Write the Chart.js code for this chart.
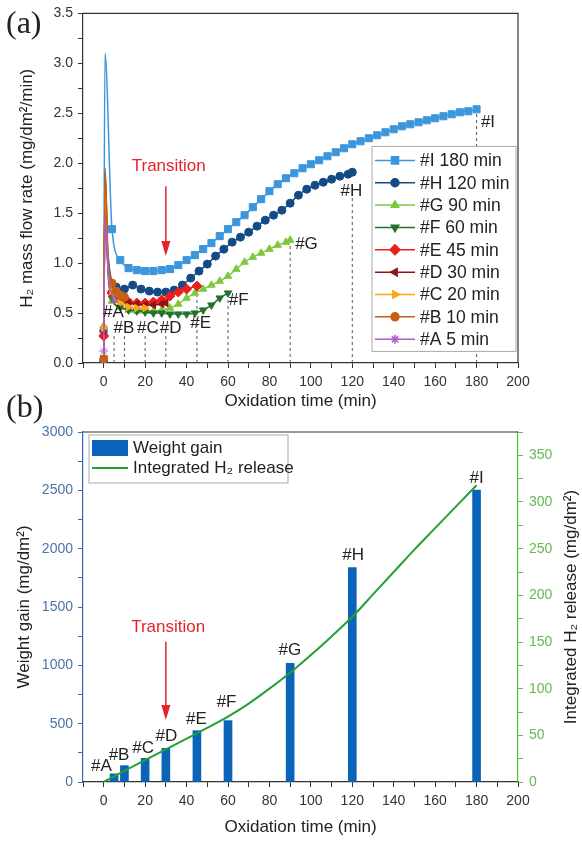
<!DOCTYPE html>
<html>
<head>
<meta charset="utf-8">
<script src="https://cdn.jsdelivr.net/npm/chart.js@4.4.1/dist/chart.umd.min.js"></script>
<style>
  html, body { margin: 0; padding: 0; background: #fff; }
  #wrap { position: relative; width: 582px; height: 841px; }
  #panelA { position: absolute; left: 0; top: 0; }
  #panelB { position: absolute; left: 0; top: 390px; }
</style>
</head>
<body>
<div id="wrap">
  <canvas id="panelA" width="582" height="415"></canvas>
  <canvas id="panelB" width="582" height="451"></canvas>
</div>
<script>
const FONT = "'Liberation Sans', Arial, Helvetica, sans-serif";

// ---------- panel (a): H2 mass flow rate vs oxidation time ----------
const seriesNames = ['#A 5 min', '#B 10 min', '#C 20 min', '#D 30 min', '#E 45 min',
                     '#F 60 min', '#G 90 min', '#H 120 min', '#I 180 min'];

const timeA = [0, 0.6, 2.5, 5];
const rateA = [0.12, 1.45, 0.85, 0.63];

const timeB = [0, 0.7, 2, 4, 6, 8, 10];
const rateB = [0.04, 1.95, 1.1, 0.8, 0.72, 0.68, 0.66];

const timeC = [0, 0.7, 2, 4, 8, 12, 16, 20];
const rateC = [0.35, 1.8, 1.0, 0.72, 0.6, 0.56, 0.55, 0.55];

const timeD = [0, 0.7, 2, 4, 8, 12, 16, 20, 24, 28, 30];
const rateD = [0.32, 1.7, 1.0, 0.72, 0.62, 0.6, 0.59, 0.58, 0.58, 0.59, 0.6];

const timeE = [0, 0.7, 2, 4, 8, 12, 16, 20, 24, 28, 32, 36, 40, 45];
const rateE = [0.27, 1.75, 1.0, 0.7, 0.63, 0.61, 0.6, 0.6, 0.61, 0.63, 0.67, 0.71, 0.74, 0.77];

const timeF = [0, 0.7, 2, 4, 8, 12, 16, 20, 24, 28, 32, 36, 40, 44, 48, 52, 56, 60];
const rateF = [0.05, 1.8, 0.95, 0.65, 0.56, 0.53, 0.52, 0.51, 0.5, 0.5, 0.49, 0.49, 0.49, 0.5, 0.53, 0.58, 0.65, 0.7];

const timeG = [0, 0.7, 2, 4, 8, 12, 16, 20, 24, 28, 32, 36, 40, 44, 48, 52, 56, 60, 64, 68, 72, 76, 80, 84, 88, 90];
const rateG = [0.37, 1.85, 0.95, 0.62, 0.56, 0.53, 0.52, 0.52, 0.52, 0.53, 0.55, 0.59, 0.65, 0.7, 0.74, 0.78, 0.82, 0.87,
               0.94, 1.01, 1.06, 1.1, 1.14, 1.18, 1.21, 1.23];

const timeH = [0, 0.7, 2, 6, 10, 14, 18, 22, 26, 30, 34, 38, 42, 46, 50, 54, 58, 62, 66, 70, 74, 78, 82, 86, 90,
               94, 98, 102, 106, 110, 114, 118, 120];
const rateH = [0.02, 1.9, 1.1, 0.76, 0.74, 0.78, 0.74, 0.72, 0.71, 0.71, 0.73, 0.78, 0.85, 0.92, 0.99, 1.07, 1.14,
               1.21, 1.26, 1.31, 1.37, 1.43, 1.48, 1.53, 1.6, 1.68, 1.74, 1.78, 1.81, 1.84, 1.87, 1.89, 1.91];

const timeI = [0, 0.6, 4, 8, 12, 16, 20, 24, 28, 32, 36, 40, 44, 48, 52, 56, 60, 64, 68, 72, 76, 80, 84, 88, 92, 96,
               100, 104, 108, 112, 116, 120, 124, 128, 132, 136, 140, 144, 148, 152, 156, 160, 164, 168, 172, 176, 180];
const rateI = [0.33, 3.1, 1.34, 1.03, 0.95, 0.93, 0.92, 0.92, 0.93, 0.94, 0.98, 1.03, 1.08, 1.14, 1.2, 1.27, 1.34,
               1.41, 1.48, 1.56, 1.64, 1.72, 1.79, 1.85, 1.9, 1.95, 1.99, 2.03, 2.07, 2.11, 2.15, 2.19, 2.22, 2.25,
               2.28, 2.31, 2.34, 2.37, 2.39, 2.41, 2.43, 2.45, 2.47, 2.49, 2.51, 2.52, 2.54];

// end-of-test markers (#A .. #I)
const endLabels = ['#A', '#B', '#C', '#D', '#E', '#F', '#G', '#H', '#I'];
const endTimes = [5, 10, 20, 30, 45, 60, 90, 120, 180];
const dashTops = [0.28, 0.28, 0.28, 0.28, 0.77, 0.7, 1.23, 1.66, 2.54];
const labelTimesA = [4.7, 9.8, 21.3, 32.3, 46.8, 65.2, 97.9, 119.6, 185.5];
const labelRatesA = [0.51, 0.35, 0.35, 0.35, 0.4, 0.63, 1.19, 1.72, 2.41];

const transitionA = { textX: 31.4, textY: 1.97, arrowX: 30, arrowTop: 1.77, arrowTip: 1.07 };

// ---------- panel (b): weight gain and integrated H2 release ----------
const barLabels = ['#A', '#B', '#C', '#D', '#E', '#F', '#G', '#H', '#I'];
const barTimes = [5, 10, 20, 30, 45, 60, 90, 120, 180];
const weightGain = [70, 140, 203, 289, 440, 526, 1017, 1837, 2503];
const barLabelTimes = [-1.1, 7.4, 19, 30.3, 44.8, 59.3, 89.9, 120.4, 180];
const barLabelValues = [131, 231, 289, 388, 540, 683, 1131, 1946, 2603];

const releaseTimes = [0, 5, 10, 20, 30, 40, 50, 60, 70, 80, 90, 100, 110, 120, 130, 140, 150, 160, 170, 180];
const releaseValues = [0, 6, 12, 23.5, 35, 46.5, 58, 70, 84, 100, 117, 136, 156, 177, 201, 225, 249, 272, 295, 318];

const transitionB = { textX: 31.1, textY: 1324, arrowX: 30, arrowTop: 1203, arrowTip: 531 };

// ---------- styles ----------
const seriesColors = ['rgb(170,95,200)', 'rgb(200,95,20)', 'rgb(255,165,25)', 'rgb(145,20,20)', 'rgb(235,30,30)',
                      'rgb(35,115,45)', 'rgb(125,200,60)', 'rgb(20,75,135)', 'rgb(60,150,220)'];
const seriesMarkers = [['star', 0, 4.5], ['circle', 0, 4], ['triangle', 90, 4.3], ['triangle', -90, 4.3],
                       ['rectRot', 0, 5], ['triangle', 180, 4.3], ['triangle', 0, 4.3], ['circle', 0, 4],
                       ['rect', 0, 5]];
const seriesTimes = [timeA, timeB, timeC, timeD, timeE, timeF, timeG, timeH, timeI];
const seriesRates = [rateA, rateB, rateC, rateD, rateE, rateF, rateG, rateH, rateI];

function drawMarker(ctx, style, rot, r, x, y) {
  if (Chart.helpers && Chart.helpers.drawPoint) {
    Chart.helpers.drawPoint(ctx, { pointStyle: style, rotation: rot, radius: r, borderWidth: 1 }, x, y);
  } else {
    ctx.beginPath(); ctx.arc(x, y, r, 0, Math.PI * 2); ctx.fill();
  }
}

function drawTransition(ctx, xs, ys, tr) {
  const red = 'rgb(230,35,45)';
  ctx.save();
  ctx.fillStyle = red; ctx.strokeStyle = red; ctx.lineWidth = 1.5;
  ctx.font = '17px ' + FONT; ctx.textAlign = 'center'; ctx.textBaseline = 'middle';
  ctx.fillText('Transition', xs.getPixelForValue(tr.textX), ys.getPixelForValue(tr.textY));
  const px = xs.getPixelForValue(tr.arrowX);
  const top = ys.getPixelForValue(tr.arrowTop);
  const tip = ys.getPixelForValue(tr.arrowTip);
  ctx.beginPath(); ctx.moveTo(px, top); ctx.lineTo(px, tip - 12); ctx.stroke();
  ctx.beginPath(); ctx.moveTo(px - 4.5, tip - 15); ctx.lineTo(px + 4.5, tip - 15); ctx.lineTo(px, tip);
  ctx.closePath(); ctx.fill();
  ctx.restore();
}

function tickFont() { return { family: FONT, size: 14 }; }
function titleFont() { return { family: FONT, size: 17 }; }

// ---------- chart (a) ----------
const datasetsA = seriesNames.map((name, i) => ({
  type: 'line',
  label: name,
  data: seriesTimes[i].map((t, k) => ({ x: t, y: seriesRates[i][k] })),
  borderColor: seriesColors[i],
  backgroundColor: seriesColors[i],
  borderWidth: 1.5,
  pointStyle: seriesMarkers[i][0],
  pointRotation: seriesMarkers[i][1],
  pointRadius: (ctx) => {
    const t = seriesTimes[i][ctx.dataIndex];
    return (t > 0 && t < 3) ? 0 : seriesMarkers[i][2];
  },
  pointBorderWidth: 1,
  cubicInterpolationMode: 'monotone'
}));

endTimes.forEach((t, i) => {
  datasetsA.push({
    type: 'line',
    label: '',
    data: [{ x: t, y: 0 }, { x: t, y: dashTops[i] }],
    borderColor: '#555',
    borderWidth: 1,
    borderDash: [3, 3],
    pointRadius: 0
  });
});

const extrasA = {
  id: 'extrasA',
  afterDatasetsDraw(chart) {
    const { ctx, chartArea: a, scales: { x, y } } = chart;
    ctx.save();
    ctx.strokeStyle = '#333'; ctx.lineWidth = 1.2;
    ctx.beginPath(); ctx.moveTo(a.left, a.top); ctx.lineTo(a.right, a.top); ctx.lineTo(a.right, a.bottom); ctx.stroke();

    ctx.font = '17px ' + FONT; ctx.fillStyle = '#222';
    ctx.textAlign = 'center'; ctx.textBaseline = 'middle';
    endLabels.forEach((s, i) => {
      ctx.fillText(s, x.getPixelForValue(labelTimesA[i]), y.getPixelForValue(labelRatesA[i]));
    });

    drawTransition(ctx, x, y, transitionA);

    // legend box
    const lx = a.right - 146, ly = a.top + 133, lw = 144, lh = 205;
    ctx.fillStyle = '#fff'; ctx.fillRect(lx, ly, lw, lh);
    ctx.strokeStyle = '#aaa'; ctx.lineWidth = 1; ctx.strokeRect(lx, ly, lw, lh);
    ctx.textAlign = 'left';
    ctx.font = '17.5px ' + FONT;
    for (let k = 0; k < seriesNames.length; k++) {
      const i = seriesNames.length - 1 - k;
      const yy = ly + 14 + k * 22.35;
      ctx.strokeStyle = seriesColors[i]; ctx.fillStyle = seriesColors[i]; ctx.lineWidth = 1.5;
      ctx.beginPath(); ctx.moveTo(lx + 3, yy); ctx.lineTo(lx + 43, yy); ctx.stroke();
      drawMarker(ctx, seriesMarkers[i][0], seriesMarkers[i][1], seriesMarkers[i][2], lx + 23, yy);
      ctx.fillStyle = '#222';
      ctx.fillText(seriesNames[i], lx + 48, yy + 1);
    }

    ctx.font = '32px "Liberation Serif", "Times New Roman", serif';
    ctx.fillStyle = '#222'; ctx.textAlign = 'left';
    ctx.fillText('(a)', 6, 25);
    ctx.restore();
  }
};

new Chart(document.getElementById('panelA'), {
  type: 'line',
  data: { datasets: datasetsA },
  plugins: [extrasA],
  options: {
    responsive: false,
    animation: false,
    layout: { padding: { top: 12, right: 64, left: 0, bottom: 0 } },
    plugins: { legend: { display: false }, tooltip: { enabled: false } },
    scales: {
      x: {
        type: 'linear', min: -10, max: 200,
        afterFit: (s) => { s.height = 52; },
        grid: { drawOnChartArea: false, tickLength: 5, tickColor: '#333' },
        border: { color: '#333', width: 1.2 },
        ticks: {
          stepSize: 10, autoSkip: false, maxRotation: 0, padding: 6, color: '#333', font: tickFont(),
          callback: (v) => (v >= 0 && v % 20 === 0) ? String(v) : ''
        },
        title: { display: true, text: 'Oxidation time (min)', color: '#222', font: titleFont(),
                 padding: { top: 0, bottom: 3 } }
      },
      y: {
        min: 0, max: 3.5,
        afterFit: (s) => { s.width = 83; },
        grid: { drawOnChartArea: false, tickLength: 5, tickColor: '#333' },
        border: { color: '#333', width: 1.2 },
        ticks: {
          stepSize: 0.25, autoSkip: false, padding: 5, color: '#333', font: tickFont(),
          callback: (v) => Math.abs(v * 2 - Math.round(v * 2)) < 1e-6 ? v.toFixed(1) : ''
        },
        title: { display: true, text: 'H₂ mass flow rate (mg/dm²/min)', color: '#222', font: titleFont(),
                 padding: { top: 17, bottom: 0 } }
      }
    }
  }
});

// ---------- chart (b) ----------
const barBlue = 'rgb(10,100,185)';
const lineGreen = 'rgb(35,160,50)';

const extrasB = {
  id: 'extrasB',
  afterDatasetsDraw(chart) {
    const { ctx, chartArea: a, scales: { x, y, y1 } } = chart;
    ctx.save();
    ctx.strokeStyle = '#333'; ctx.lineWidth = 1.2;
    ctx.beginPath(); ctx.moveTo(a.left, a.top); ctx.lineTo(a.right, a.top); ctx.stroke();

    ctx.font = '17px ' + FONT; ctx.fillStyle = '#222';
    ctx.textAlign = 'center'; ctx.textBaseline = 'middle';
    barLabels.forEach((s, i) => {
      ctx.fillText(s, x.getPixelForValue(barLabelTimes[i]), y.getPixelForValue(barLabelValues[i]));
    });

    drawTransition(ctx, x, y, transitionB);

    // legend box
    const lx = a.left + 6, ly = a.top + 3, lw = 199, lh = 48;
    ctx.fillStyle = '#fff'; ctx.fillRect(lx, ly, lw, lh);
    ctx.strokeStyle = '#aaa'; ctx.lineWidth = 1; ctx.strokeRect(lx, ly, lw, lh);
    ctx.fillStyle = barBlue; ctx.fillRect(lx + 3, ly + 5, 36, 16);
    ctx.strokeStyle = lineGreen; ctx.lineWidth = 2;
    ctx.beginPath(); ctx.moveTo(lx + 3, ly + 33); ctx.lineTo(lx + 39, ly + 33); ctx.stroke();
    ctx.fillStyle = '#222'; ctx.textAlign = 'left';
    ctx.fillText('Weight gain', lx + 44, ly + 13);
    ctx.fillText('Integrated H₂ release', lx + 44, ly + 33);

    // right axis title, reading upwards
    ctx.save();
    ctx.translate(y1.right - 11, (a.top + a.bottom) / 2);
    ctx.rotate(-Math.PI / 2);
    ctx.textAlign = 'center';
    ctx.fillText('Integrated H₂ release (mg/dm²)', 0, 0);
    ctx.restore();

    ctx.font = '32px "Liberation Serif", "Times New Roman", serif';
    ctx.fillStyle = '#222'; ctx.textAlign = 'left';
    ctx.fillText('(b)', 6, 19);
    ctx.restore();
  }
};

new Chart(document.getElementById('panelB'), {
  type: 'line',
  data: {
    datasets: [
      {
        type: 'line',
        label: 'Integrated H₂ release',
        data: releaseTimes.map((t, i) => ({ x: t, y: releaseValues[i] })),
        yAxisID: 'y1',
        borderColor: lineGreen,
        borderWidth: 2,
        pointRadius: 0,
        cubicInterpolationMode: 'monotone'
      },
      {
        type: 'bar',
        label: 'Weight gain',
        data: barTimes.map((t, i) => ({ x: t, y: weightGain[i] })),
        yAxisID: 'y',
        backgroundColor: barBlue,
        barThickness: 8
      }
    ]
  },
  plugins: [extrasB],
  options: {
    responsive: false,
    animation: false,
    layout: { padding: { top: 42, right: 0, left: 0, bottom: 0 } },
    plugins: { legend: { display: false }, tooltip: { enabled: false } },
    scales: {
      x: {
        type: 'linear', min: -10, max: 200, offset: false,
        afterFit: (s) => { s.height = 59; },
        grid: { drawOnChartArea: false, offset: false, tickLength: 5, tickColor: '#333' },
        border: { color: '#333', width: 1.2 },
        ticks: {
          stepSize: 10, autoSkip: false, maxRotation: 0, padding: 6, color: '#333', font: tickFont(),
          callback: (v) => (v >= 0 && v % 20 === 0) ? String(v) : ''
        },
        title: { display: true, text: 'Oxidation time (min)', color: '#222', font: titleFont(),
                 padding: { top: 0, bottom: 3 } }
      },
      y: {
        position: 'left', min: 0, max: 3000,
        afterFit: (s) => { s.width = 83; },
        grid: { drawOnChartArea: false, tickLength: 5, tickColor: 'rgb(70,110,165)' },
        border: { color: 'rgb(50,105,175)', width: 1.2 },
        ticks: {
          stepSize: 250, autoSkip: false, padding: 5, color: 'rgb(75,115,165)', font: tickFont(),
          callback: (v) => v % 500 === 0 ? String(v) : ''
        },
        title: { display: true, text: 'Weight gain (mg/dm²)', color: '#222', font: titleFont(),
                 padding: { top: 14, bottom: 0 } }
      },
      y1: {
        position: 'right', min: 0, max: 375,
        afterFit: (s) => { s.width = 64; },
        grid: { drawOnChartArea: false, tickLength: 5, tickColor: 'rgb(100,190,80)' },
        border: { color: 'rgb(90,190,70)', width: 1.2 },
        ticks: {
          stepSize: 25, autoSkip: false, padding: 6, color: 'rgb(100,185,80)', font: tickFont(),
          callback: (v) => v % 50 === 0 ? String(v) : ''
        }
      }
    }
  }
});
</script>
</body>
</html>
